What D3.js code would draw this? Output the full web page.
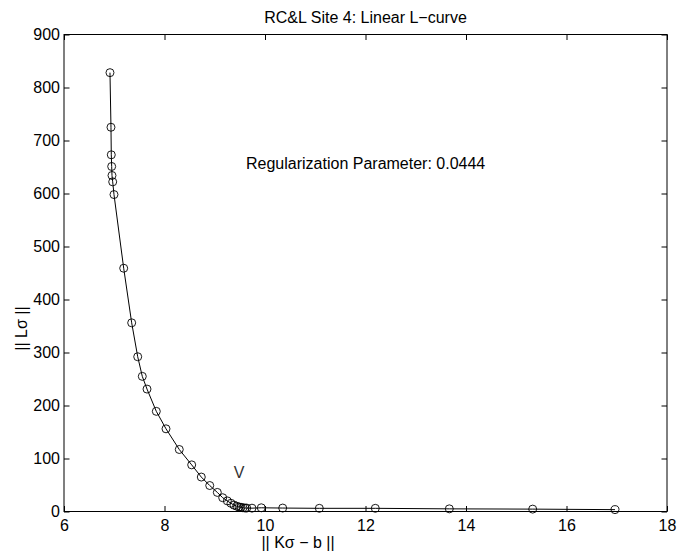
<!DOCTYPE html>
<html>
<head>
<meta charset="utf-8">
<script src="https://cdn.jsdelivr.net/npm/d3@7"></script>
<style>
  html, body { margin: 0; padding: 0; background: #fff; }
  svg { display: block; font-family: "Liberation Sans", Arial, Helvetica, sans-serif; }
</style>
</head>
<body>
<svg id="chart" width="678" height="552"></svg>
<script>
// L-curve: residual norm || Kσ − b || vs. solution semi-norm || Lσ ||
const residualNorm = [
  6.915, 6.935, 6.941, 6.949, 6.955, 6.969, 6.995, 7.188, 7.347, 7.467,
  7.558, 7.652, 7.837, 8.030, 8.294, 8.541, 8.732, 8.900, 9.051, 9.158,
  9.250, 9.323, 9.383, 9.437, 9.483, 9.522, 9.562, 9.602, 9.636, 9.741,
  9.926, 10.352, 11.081, 12.195, 13.668, 15.327, 16.965
];
const solutionNorm = [
  828, 725, 673, 651, 634, 622, 598, 459, 356, 292,
  255, 231, 189, 156, 117, 88, 65, 49, 36, 26,
  20, 15.5, 12, 10, 8.5, 8, 7, 6.6, 6.5, 6.3,
  7, 6.5, 6, 6, 5, 4.5, 3.5
];
const xTicks = [6, 8, 10, 12, 14, 16, 18];
const yTicks = [0, 100, 200, 300, 400, 500, 600, 700, 800, 900];
const chosenResidual = 9.483;   // corner marked with "V"
const chosenNorm = 8.5;
const titleText = "RC&L Site 4: Linear L\u2212curve";
const xLabelText = "|| K\u03c3 \u2212 b ||";
const yLabelText = "|| L\u03c3 ||";
const paramText = "Regularization Parameter: 0.0444";

const svg = d3.select("#chart");
const plotLeft = 64, plotRight = 667, plotTop = 34.5, plotBottom = 511.5;

const x = d3.scaleLinear().domain([6, 18]).range([plotLeft, plotRight]);
const y = d3.scaleLinear().domain([0, 900]).range([plotBottom, plotTop]);

const tickLen = 5.5;
const fontSize = 16;

// axes with inward ticks on all four sides
const axisStyle = g => {
  g.select(".domain").remove();
  g.selectAll(".tick line").attr("stroke", "#000").attr("stroke-width", 1);
  g.selectAll(".tick text").attr("fill", "#000").attr("font-size", fontSize)
    .attr("font-family", "'Liberation Sans', Arial, sans-serif");
};

svg.append("g").attr("transform", `translate(0,${plotBottom})`)
  .call(d3.axisBottom(x).tickValues(xTicks).tickFormat(d3.format("d"))
    .tickSizeInner(-tickLen).tickSizeOuter(0).tickPadding(8))
  .call(axisStyle);
svg.append("g").attr("transform", `translate(0,${plotTop})`)
  .call(d3.axisTop(x).tickValues(xTicks).tickFormat("")
    .tickSizeInner(-tickLen).tickSizeOuter(0))
  .call(axisStyle);
svg.append("g").attr("transform", `translate(${plotLeft},0)`)
  .call(d3.axisLeft(y).tickValues(yTicks).tickFormat(d3.format("d"))
    .tickSizeInner(-tickLen).tickSizeOuter(0).tickPadding(4))
  .call(axisStyle);
svg.append("g").attr("transform", `translate(${plotRight},0)`)
  .call(d3.axisRight(y).tickValues(yTicks).tickFormat("")
    .tickSizeInner(-tickLen).tickSizeOuter(0))
  .call(axisStyle);

// plot box
svg.append("rect")
  .attr("x", plotLeft).attr("y", plotTop)
  .attr("width", plotRight - plotLeft).attr("height", plotBottom - plotTop)
  .attr("fill", "none").attr("stroke", "#000").attr("stroke-width", 1);

const pts = residualNorm.map((r, i) => [r, solutionNorm[i]]);

svg.append("path")
  .datum(pts)
  .attr("fill", "none").attr("stroke", "#000").attr("stroke-width", 1)
  .attr("d", d3.line().x(d => x(d[0])).y(d => y(d[1])));

svg.append("g").selectAll("circle").data(pts).join("circle")
  .attr("cx", d => x(d[0])).attr("cy", d => y(d[1]))
  .attr("r", 4)
  .attr("fill", "none").attr("stroke", "#000").attr("stroke-width", 0.9);

// corner marker
svg.append("text")
  .attr("x", x(chosenResidual)).attr("y", y(chosenNorm) - 28.5)
  .attr("text-anchor", "middle").attr("font-size", fontSize)
  .attr("fill", "#333").text("V");

svg.append("text")
  .attr("x", (plotLeft + plotRight) / 2).attr("y", 23)
  .attr("text-anchor", "middle").attr("font-size", fontSize)
  .attr("fill", "#000").text(titleText);

svg.append("text")
  .attr("x", 298).attr("y", 548)
  .attr("text-anchor", "middle").attr("font-size", fontSize)
  .attr("fill", "#000").text(xLabelText);

svg.append("text")
  .attr("transform", "translate(27,328.5) rotate(-90)")
  .attr("text-anchor", "middle").attr("font-size", fontSize)
  .attr("fill", "#000").text(yLabelText);

svg.append("text")
  .attr("x", 246).attr("y", 169)
  .attr("font-size", fontSize)
  .attr("fill", "#000").text(paramText);
</script>
</body>
</html>
